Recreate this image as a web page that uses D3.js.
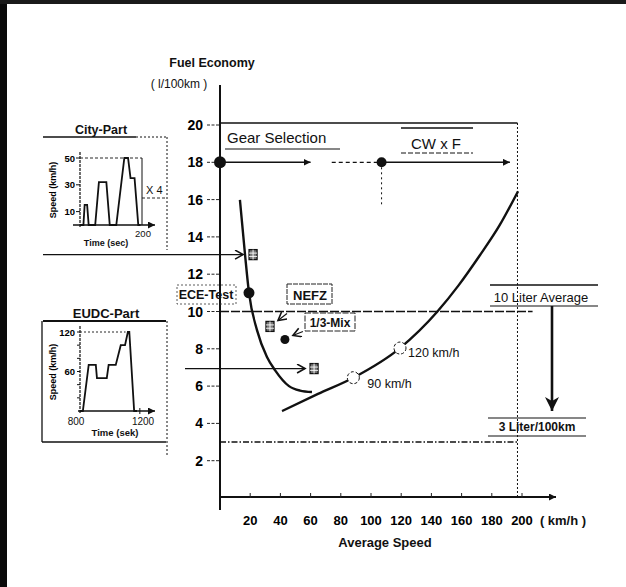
<!DOCTYPE html>
<html>
<head>
<meta charset="utf-8">
<script src="https://cdn.jsdelivr.net/npm/d3@7"></script>
<style>
  body { margin: 0; background: #fff; }
  svg { display: block; font-family: "Liberation Sans", Arial, sans-serif; }
  .bold { font-weight: bold; }
</style>
</head>
<body>
<div id="chart"></div>
<script>
// main chart values (speed km/h, fuel l/100km)
var yTicks = [2, 4, 6, 8, 10, 12, 14, 16, 18, 20];
var xTicks = [20, 40, 60, 80, 100, 120, 140, 160, 180, 200];

// cycle curve (ECE -> EUDC), steep hyperbola
var cycleCurve = [[13.2, 15.98], [16.6, 13.03], [19.2, 11.0], [24.5, 9.0], [31.1, 7.56],
                  [36.4, 6.86], [45.7, 6.0], [53, 5.76], [60.9, 5.68]];
// constant speed curve
var cruiseCurve = [[41.1, 4.66], [64.9, 5.58], [88.3, 6.45], [119.2, 8.04], [144, 10.0],
                   [158, 11.4], [172, 13.0], [185, 14.6], [197.4, 16.45]];

var cycleMarkers = [
    { 'name': 'City', 'v': 21.9, 'f': 13.05 },
    { 'name': 'NEFZ', 'v': 33.1, 'f': 9.2 },
    { 'name': 'EUDC', 'v': 62.3, 'f': 6.94 }];
var testPoints = [
    { 'name': 'ECE-Test', 'v': 19.2, 'f': 11.0 },
    { 'name': '1/3-Mix', 'v': 43, 'f': 8.5 }];
var speedPoints = [
    { 'lbl': '90 km/h', 'v': 88.3, 'f': 6.45 },
    { 'lbl': '120 km/h', 'v': 119.2, 'f': 8.04 }];
var gearDots = [{ 'v': 0, 'f': 18 }, { 'v': 107, 'f': 18 }];
var tenLiter = 10;
var threeLiter = 3;

// inset: city part (ECE-15)
var cityTime  = [0, 11, 15, 23, 28, 49, 61, 85, 96, 117, 143, 155, 163, 176, 188, 195];
var citySpeed = [0, 0, 15, 15, 0, 0, 32, 32, 0, 0, 50, 50, 35, 35, 0, 0];
var cityTicks = [10, 30, 50];
// inset: EUDC part
var eudcTime  = [780, 800, 841, 891, 899, 968, 981, 1031, 1066, 1096, 1116, 1126, 1160, 1180];
var eudcSpeed = [0, 0, 70, 70, 50, 50, 70, 70, 100, 100, 120, 120, 0, 0];
var eudcTicks = [60, 120];

var width = 626;
var height = 587;

var svg = d3.select('#chart').append('svg')
    .attr('width', width)
    .attr('height', height);

var defs = svg.append('defs');
defs.append('marker')
    .attr('id', 'chev')
    .attr('markerUnits', 'userSpaceOnUse')
    .attr('markerWidth', 12).attr('markerHeight', 12)
    .attr('refX', 9).attr('refY', 5)
    .attr('orient', 'auto')
    .append('path')
    .attr('d', 'M1,0.5 L9,5 L1,9.5')
    .style('fill', 'none').style('stroke', '#111').style('stroke-width', 1.6);
defs.append('marker')
    .attr('id', 'smallArr')
    .attr('markerUnits', 'userSpaceOnUse')
    .attr('markerWidth', 10).attr('markerHeight', 10)
    .attr('refX', 7).attr('refY', 3.5)
    .attr('orient', 'auto')
    .append('path')
    .attr('d', 'M0,0 L7,3.5 L0,7 Z')
    .style('fill', '#111');
defs.append('marker')
    .attr('id', 'bigArr')
    .attr('markerUnits', 'userSpaceOnUse')
    .attr('markerWidth', 20).attr('markerHeight', 20)
    .attr('refX', 14).attr('refY', 7)
    .attr('orient', 'auto')
    .append('path')
    .attr('d', 'M0,0 L14,7 L0,14 L4,7 Z')
    .style('fill', '#111');

// scanned page edges
svg.append('rect').attr('x', 0).attr('y', 0).attr('width', 7).attr('height', height).style('fill', '#0a0a0a');
svg.append('rect').attr('x', 0).attr('y', 0).attr('width', width).attr('height', 4).style('fill', '#1a1a1a');

var x = d3.scaleLinear().domain([0, 200]).range([220, 522]);
var y = d3.scaleLinear().domain([0, 20]).range([498, 125]);

function line(x1, y1, x2, y2, w, dash) {
    var l = svg.append('line')
        .attr('x1', x1).attr('y1', y1).attr('x2', x2).attr('y2', y2)
        .style('stroke', '#111')
        .style('stroke-width', w || 1);
    if (dash) l.style('stroke-dasharray', dash);
    return l;
}
function label(tx, ty, str, size, bold, anchor) {
    return svg.append('text')
        .attr('x', tx).attr('y', ty)
        .attr('class', bold ? 'bold' : null)
        .attr('text-anchor', anchor || 'start')
        .style('font-size', size + 'px')
        .style('fill', '#111')
        .text(str);
}

//Axes
line(x(0), 85, x(0), 510, 2);
line(x(0), y(0) - 1, 556, y(0) - 1, 2).attr('marker-end', 'url(#smallArr)');

svg.selectAll('.ytick')
    .data(yTicks)
    .enter()
    .append('line')
    .attr('class', 'ytick')
    .attr('x1', 207).attr('x2', x(0))
    .attr('y1', function (d) { return y(d); })
    .attr('y2', function (d) { return y(d); })
    .style('stroke', '#222')
    .style('stroke-width', 1)
    .style('stroke-dasharray', '3,1.5');

svg.selectAll('.ylbl')
    .data(yTicks)
    .enter()
    .append('text')
    .attr('class', 'ylbl bold')
    .attr('x', 203)
    .attr('y', function (d) { return y(d) + 5; })
    .attr('text-anchor', 'end')
    .style('font-size', '14px')
    .text(function (d) { return d; });

svg.selectAll('.xtick')
    .data(xTicks)
    .enter()
    .append('line')
    .attr('x1', function (d) { return x(d); })
    .attr('x2', function (d) { return x(d); })
    .attr('y1', y(0) - 5).attr('y2', y(0))
    .style('stroke', '#222');

svg.selectAll('.xlbl')
    .data(xTicks)
    .enter()
    .append('text')
    .attr('class', 'xlbl bold')
    .attr('x', function (d) { return x(d); })
    .attr('y', 525)
    .attr('text-anchor', 'middle')
    .style('font-size', '13px')
    .text(function (d) { return d; });

label(563, 525, '( km/h )', 13, true, 'middle');
label(385, 547, 'Average Speed', 13, true, 'middle');
label(212, 67, 'Fuel Economy', 12.5, true, 'middle');
label(179, 88, '( l/100km )', 12, false, 'middle');

// frame of gear selection / CW x F
line(x(0), y(20) - 2, x(197), y(20) - 2, 1.4);
line(x(197), y(20) - 2, x(197), y(0) - 2, 1, '2,2');

// 10 liter and 3 liter levels
line(x(0), y(tenLiter), x(207), y(tenLiter), 1.3, '9,2');
line(x(0), y(threeLiter), x(198), y(threeLiter), 1.6, '6,2,1.5,2');

// gear selection / CW x F arrows
line(x(gearDots[0].v), y(18), x(60), y(18), 1.6).attr('marker-end', 'url(#smallArr)');
line(x(74), y(18), x(104), y(18), 1.2, '4,3');
line(x(gearDots[1].v), y(18), x(192), y(18), 1.6).attr('marker-end', 'url(#smallArr)');
line(x(gearDots[1].v), y(18), x(gearDots[1].v), y(15.7), 1, '2,3');

svg.selectAll('.gdot')
    .data(gearDots)
    .enter()
    .append('circle')
    .attr('cx', function (d) { return x(d.v); })
    .attr('cy', function (d) { return y(d.f); })
    .attr('r', function (d, i) { return i == 0 ? 6 : 5; })
    .style('fill', '#111');

label(227, 143, 'Gear Selection', 15, false);
line(225, 149, 340, 149, 1.2);
label(436, 149, 'CW x F', 15, false, 'middle');
line(401, 128, 473, 128, 1.4);
line(401, 153, 473, 153, 1, '5,2');

// curves
var curveLine = d3.line()
    .x(function (d) { return x(d[0]); })
    .y(function (d) { return y(d[1]); })
    .curve(d3.curveMonotoneX);

svg.append('path')
    .datum(cycleCurve)
    .attr('d', curveLine)
    .style('fill', 'none').style('stroke', '#111').style('stroke-width', 2.4);
svg.append('path')
    .datum(cruiseCurve)
    .attr('d', curveLine)
    .style('fill', 'none').style('stroke', '#111').style('stroke-width', 2.4);

// speed points on cruise curve
svg.selectAll('.spt')
    .data(speedPoints)
    .enter()
    .append('circle')
    .attr('cx', function (d) { return x(d.v); })
    .attr('cy', function (d) { return y(d.f); })
    .attr('r', 6)
    .style('fill', '#fff')
    .style('stroke', '#111')
    .style('stroke-width', 1)
    .style('stroke-dasharray', '3,2');
svg.selectAll('.slbl')
    .data(speedPoints)
    .enter()
    .append('text')
    .attr('x', function (d, i) { return x(d.v) + (i == 0 ? 14 : 8); })
    .attr('y', function (d, i) { return y(d.f) + (i == 0 ? 10 : 9); })
    .style('font-size', '12.5px')
    .style('fill', '#111')
    .text(function (d) { return d.lbl; });

// hatched cycle markers
var mk = svg.selectAll('.mk')
    .data(cycleMarkers)
    .enter()
    .append('g')
    .attr('transform', function (d) { return 'translate(' + x(d.v) + ',' + y(d.f) + ')'; });
mk.append('rect')
    .attr('x', -4).attr('y', -5).attr('width', 8).attr('height', 10)
    .style('fill', '#777').style('stroke', '#111').style('stroke-width', 1.3);
mk.append('path')
    .attr('d', 'M-4,-1.5 H4 M-4,1.8 H4 M0,-5 V5')
    .style('stroke', '#fff').style('stroke-width', 0.9);

// test points
svg.selectAll('.tpt')
    .data(testPoints)
    .enter()
    .append('circle')
    .attr('cx', function (d) { return x(d.v); })
    .attr('cy', function (d) { return y(d.f); })
    .attr('r', function (d, i) { return i == 0 ? 5.5 : 4.5; })
    .style('fill', '#111');

// labels of test points
label(206, 299, 'ECE-Test', 12.5, true, 'middle');
svg.append('rect').attr('x', 177).attr('y', 285).attr('width', 59).attr('height', 19)
    .style('fill', 'none').style('stroke', '#333').style('stroke-width', 0.8).style('stroke-dasharray', '2,2');
label(310, 300, 'NEFZ', 13, true, 'middle');
svg.append('rect').attr('x', 287).attr('y', 284).attr('width', 45).attr('height', 20)
    .style('fill', 'none').style('stroke', '#222').style('stroke-width', 1).style('stroke-dasharray', '5,1');
label(330, 327, '1/3-Mix', 12, true, 'middle');
svg.append('rect').attr('x', 305).attr('y', 313).attr('width', 50).attr('height', 18)
    .style('fill', 'none').style('stroke', '#222').style('stroke-width', 1).style('stroke-dasharray', '6,1.5');

// small pointer arrows
line(x(cycleMarkers[1].v) + 17, y(cycleMarkers[1].f) - 13, x(cycleMarkers[1].v) + 8, y(cycleMarkers[1].f) - 6, 1.2)
    .attr('marker-end', 'url(#chev)');
line(x(testPoints[1].v) + 18, y(testPoints[1].f) - 8, x(testPoints[1].v) + 8, y(testPoints[1].f) - 4, 1.2)
    .attr('marker-end', 'url(#chev)');

// 10 Liter -> 3 Liter
line(490, 285, 598, 285, 1.6);
label(541, 302, '10 Liter Average', 13, false, 'middle');
line(490, 306, 598, 306, 1.2);
line(552, 306, 552, 411, 2.6).attr('marker-end', 'url(#bigArr)');
line(488, 418, 586, 418, 1.2);
label(537, 431, '3 Liter/100km', 12, true, 'middle');
line(488, 436, 586, 436, 1.2);

// City-Part inset
label(101, 134, 'City-Part', 12.5, true, 'middle');
line(43, 137, 136, 137, 1.3);
line(136, 137, 167, 137, 1, '2,2');
line(167, 137, 167, 250, 1, '2,2');

var cx = d3.scaleLinear().domain([0, 200]).range([80, 142]);
var cy = d3.scaleLinear().domain([0, 50]).range([225, 158]);
line(cx(0), 152, cx(0), 228, 1.2, '3,1');
line(73, cy(0), 155, cy(0), 1.5).attr('marker-end', 'url(#smallArr)');
line(cx(0), cy(50), cx(200), cy(50), 0.9, '3,2');
line(cx(200), cy(50), cx(200), cy(0), 1);
line(cx(200), 198, 167, 198, 0.9, '3,2');
label(146, 194, 'X 4', 11, false);

svg.selectAll('.ctick')
    .data(cityTicks)
    .enter()
    .append('line')
    .attr('x1', cx(0) - 4).attr('x2', cx(0))
    .attr('y1', function (d) { return cy(d); })
    .attr('y2', function (d) { return cy(d); })
    .style('stroke', '#111');
svg.selectAll('.clbl')
    .data(cityTicks)
    .enter()
    .append('text')
    .attr('class', 'bold')
    .attr('x', cx(0) - 5)
    .attr('y', function (d) { return cy(d) + 3.5; })
    .attr('text-anchor', 'end')
    .style('font-size', '9.5px')
    .text(function (d) { return d; });

svg.append('path')
    .datum(d3.zip(cityTime, citySpeed))
    .attr('d', d3.line()
        .x(function (d) { return cx(d[0]); })
        .y(function (d) { return cy(d[1]); }))
    .style('fill', 'none').style('stroke', '#111').style('stroke-width', 1.8);

label(cx(200) + 1, 237, '200', 9.5, false, 'middle');
label(106, 246, 'Time  (sec)', 9, true, 'middle');
svg.append('text')
    .attr('class', 'bold')
    .attr('transform', 'translate(56,190) rotate(-90)')
    .attr('text-anchor', 'middle')
    .style('font-size', '9px')
    .text('Speed (km/h)');

// arrow from city part to its marker
line(43, y(cycleMarkers[0].f), x(cycleMarkers[0].v) - 10, y(cycleMarkers[0].f), 1.3)
    .attr('marker-end', 'url(#chev)');

// EUDC-Part inset
label(106, 318, 'EUDC-Part', 13, true, 'middle');
line(43, 321, 166, 321, 1.8);
line(42, 321, 42, 442, 1.3);
line(42, 442, 166, 442, 1.3);
line(167, 321, 167, 455, 1, '2,2');

var ex = d3.scaleLinear().domain([780, 1180]).range([80, 137]);
var ey = d3.scaleLinear().domain([0, 120]).range([411, 332]);
line(ex(780), 326, ex(780), 414, 1.2, '3,1');
line(78, ey(0), 155, ey(0), 1.3).attr('marker-end', 'url(#smallArr)');
line(ex(780), ey(120), ex(1100), ey(120), 0.9, '2,2');

svg.selectAll('.etick')
    .data([20, 40, 60, 80, 100, 120])
    .enter()
    .append('line')
    .attr('x1', ex(780) - 3).attr('x2', ex(780))
    .attr('y1', function (d) { return ey(d); })
    .attr('y2', function (d) { return ey(d); })
    .style('stroke', '#111');
svg.selectAll('.elbl')
    .data(eudcTicks)
    .enter()
    .append('text')
    .attr('class', 'bold')
    .attr('x', ex(780) - 5)
    .attr('y', function (d) { return ey(d) + 3.5; })
    .attr('text-anchor', 'end')
    .style('font-size', '9.5px')
    .text(function (d) { return d; });

svg.append('path')
    .datum(d3.zip(eudcTime, eudcSpeed))
    .attr('d', d3.line()
        .x(function (d) { return ex(d[0]); })
        .y(function (d) { return ey(d[1]); }))
    .style('fill', 'none').style('stroke', '#111').style('stroke-width', 1.8);

label(76, 425, '800', 10, false, 'middle');
label(143, 425, '1200', 10, false, 'middle');
line(ex(1200), ey(0) - 3, ex(1200), ey(0) + 3, 1);
label(115, 436, 'Time  (sek)', 9.5, true, 'middle');
svg.append('text')
    .attr('class', 'bold')
    .attr('transform', 'translate(56,372) rotate(-90)')
    .attr('text-anchor', 'middle')
    .style('font-size', '9px')
    .text('Speed (km/h)');

// arrow from EUDC part to its marker
line(185, y(cycleMarkers[2].f), x(cycleMarkers[2].v) - 9, y(cycleMarkers[2].f), 1.3)
    .attr('marker-end', 'url(#chev)');
</script>
</body>
</html>
